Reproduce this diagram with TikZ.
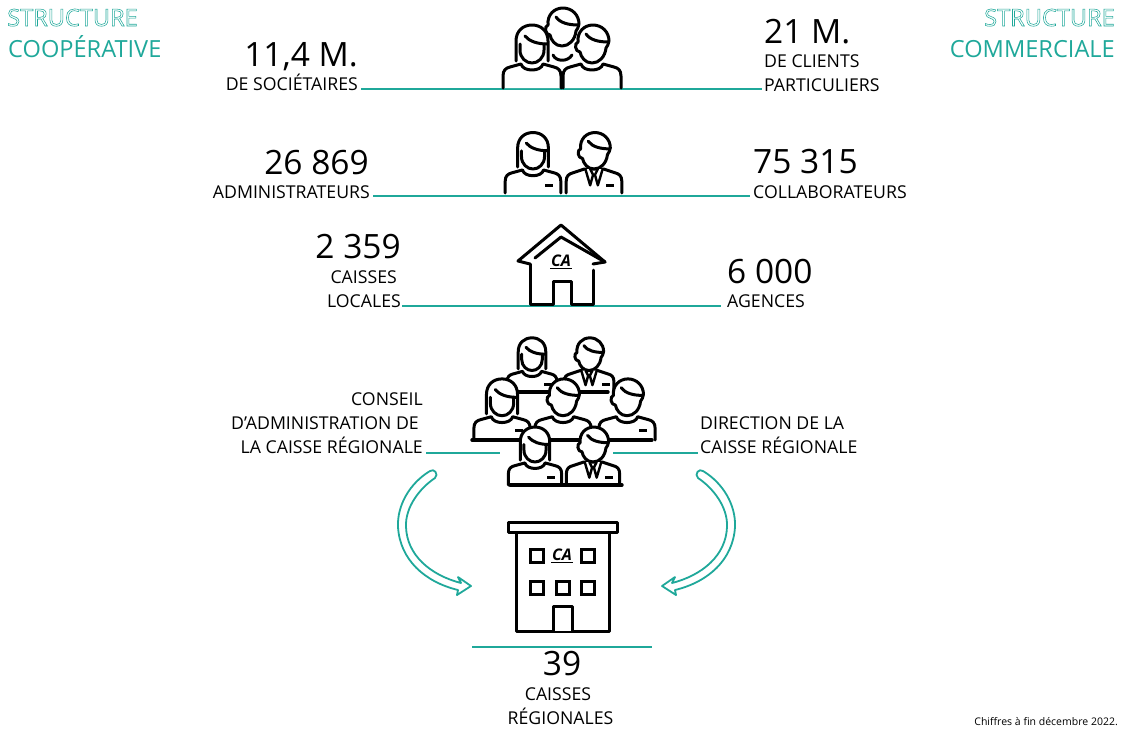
\documentclass[tikz,border=0pt]{standalone}
\usepackage{fontspec}
\setmainfont{Open Sans}
\definecolor{teal1}{HTML}{1FA89A}
\newcommand\outl[1]{\special{pdf:code 1 Tr 0.55 w}#1\special{pdf:code 0 Tr}}
\newcommand\manhead{%
    \draw[ink,fill=white] (0,-25) .. controls (-7,-25) and (-11,-31) .. (-12,-36) .. controls (-17,-36) and (-18,-45) .. (-14,-46) .. controls (-15,-56) and (-8,-63) .. (1,-63) .. controls (10,-63) and (17,-56) .. (17,-47) .. controls (17,-44) and (15,-42) .. (14,-40) .. controls (13,-31) and (7,-25) .. (0,-25) -- cycle;
    \draw[ink] (-6,-54) .. controls (-2,-48) and (7,-46) .. (16,-46);
}
\tikzset{
  ink/.style={line width=3pt,line cap=round,line join=round,black},
  rulegreen/.style={line width=2pt,teal1},
  big/.style={font=\fontsize{33.5}{34}\selectfont,inner sep=0pt},
  small/.style={font=\fontsize{17.7}{20}\selectfont,inner sep=0pt},
  head/.style={font=\fontsize{23.6}{26}\selectfont,text=teal1,inner sep=0pt},
  pics/womanicon/.style={code={
    \draw[ink,fill=white] (-16,-27) -- (-16,-47) .. controls (-16,-57) and (-9,-63) .. (0,-63) .. controls (9,-63) and (16,-57) .. (16,-47) -- (16,-27);
    \draw[ink,fill=white] (-12,-44) -- (-12,-38) .. controls (-12,-30) and (-6,-25) .. (0,-25) .. controls (6,-25) and (12,-30) .. (12,-38) -- (12,-44);
    \draw[ink] (-7,-52) .. controls (-3,-47) and (5,-44) .. (15,-44);
    \draw[ink,fill=white] (-29,0) -- (-29,-12) .. controls (-29,-18) and (-26,-20) .. (-22,-21) -- (-11,-24) .. controls (-9,-16) and (9,-16) .. (11,-24) -- (22,-21) .. controls (26,-20) and (29,-18) .. (29,-12) -- (29,0);
  }},
  pics/headicon/.style={code={\manhead}},
  pics/manicon/.style={code={
    \manhead
    \draw[ink,fill=white] (-29,0) -- (-29,-12) .. controls (-29,-18) and (-26,-20) .. (-22,-21) -- (-11,-24) .. controls (-9,-16) and (9,-16) .. (11,-24) -- (22,-21) .. controls (26,-20) and (29,-18) .. (29,-12) -- (29,0);
  }},
  pics/suiticon/.style={code={
    \manhead
    \draw[ink,fill=white] (-29,0) -- (-29,-12) .. controls (-29,-18) and (-26,-20) .. (-22,-21) -- (-10,-25) -- (10,-25) -- (22,-21) .. controls (26,-20) and (29,-18) .. (29,-12) -- (29,0);
    \draw[ink,fill=white,line width=2.4pt] (-9,-25) -- (-4,-8) -- (-1,-19) -- (-4,-25);
    \draw[ink,fill=white,line width=2.4pt] (9,-25) -- (4,-8) -- (1,-19) -- (4,-25);
  }},
  pics/badgeicon/.style={code={\draw[ink,line cap=butt] (12,-8) -- (20,-8);}},
  pics/arrowicon/.style={code={
    \draw[line width=1.8pt,teal1,fill=white,line join=round]
      (471,586) -- (458,577) -- (461,583)
      .. controls (430,575) and (407,555) .. (406,527)
      .. controls (405,507) and (420,488) .. (435,478)
      .. controls (439,474) and (434,468) .. (430,471)
      .. controls (410,483) and (397,505) .. (398,527)
      .. controls (400,560) and (425,582) .. (458,590)
      -- (457,595) -- cycle;
  }},
}
\newcommand\calogo[3]{%
  \node[inner sep=0pt,font=\fontsize{16}{16}\selectfont\bfseries\itshape,anchor=base] (#3) at (#1,#2) {CA};
  \draw[line width=1.4pt,black] (#1-11,#2+2.5) -- (#1+11,#2+2.5);
}
\begin{document}
\begin{tikzpicture}[x=1pt,y=-1pt]
\useasboundingbox (0,0) rectangle (1121,729);
% green rules
\draw[rulegreen] (361,89) -- (762,89);
\draw[rulegreen] (373,196) -- (750,196);
\draw[rulegreen] (402,306) -- (721,306);
\draw[rulegreen] (426,452.5) -- (500,452.5);
\draw[rulegreen] (613,452.5) -- (698,452.5);
\draw[rulegreen] (472,646.5) -- (652,646.5);
% group 1
\pic at (562,71) {headicon};
\draw[ink] (553,55) .. controls (556,62) and (568,62) .. (572,55);
\pic at (532,88) {womanicon};
\pic at (592,88) {manicon};
% group 2
\pic[scale=.96] at (533,193) {womanicon};
\pic at (533,193) {badgeicon};
\pic[scale=.96] at (594,193) {suiticon};
\pic at (594,193) {badgeicon};
% house
\draw[ink,fill=white] (530,264) -- (518,261) -- (561,225) -- (605,262) -- (593,264);
\draw[ink] (535,258) -- (561,237) -- (605,262);
\draw[ink] (530,264) -- (530,304) -- (553,304) -- (553,281) -- (571,281) -- (571,304) -- (593,304) -- (593,270);
\calogo{561}{266}{logoa}
% group of seven
\pic[scale=.86] at (532,392) {womanicon};
\pic at (532,392) {badgeicon};
\pic[scale=.86] at (589,392) {suiticon};
\pic at (590,392) {badgeicon};
\draw[ink,line width=3.4pt] (517,392) -- (608,392);
\pic[scale=.97] at (502,440) {womanicon};
\pic at (503,438) {badgeicon};
\pic[scale=.97] at (563,440) {manicon};
\pic[scale=.97] at (627,440) {manicon};
\pic at (627,438) {badgeicon};
\draw[ink,line width=3.4pt] (472,440) -- (652,440);
\pic[scale=.92] at (535,485) {womanicon};
\pic at (535,485) {badgeicon};
\pic[scale=.92] at (593,485) {suiticon};
\pic at (593,485) {badgeicon};
\draw[ink,line width=3.4pt] (510,485) -- (622,485);
% building
\draw[ink,fill=white] (516,532) rectangle (609,631);
\draw[ink,fill=white] (508,522) rectangle (617,532);
\draw[ink,fill=white] (553,631) -- (553,606) -- (572,606) -- (572,631);
\foreach \wx/\wy in {530/549,581/549,530/581,556/581,581/581}
  \draw[ink,line cap=butt,line join=miter] (\wx,\wy) rectangle (\wx+13,\wy+13);
\calogo{562}{560}{logob}
% arrows
\pic {arrowicon};
\pic[xscale=-1] at (1133,0) {arrowicon};
% corner titles
\node[head,anchor=base west] (t1) at (7,26) {\outl{STRUCTURE}};
\node[head,anchor=base west] (t2) at (8,57) {COOPÉRATIVE};
\node[head,anchor=base east] (t3) at (1115,26) {\outl{STRUCTURE}};
\node[head,anchor=base east] (t4) at (1115,57) {COMMERCIALE};
% figures
\node[big,anchor=base east] (a1) at (358,66) {11,4 M.};
\node[small,anchor=base east] (a2) at (358,90) {DE SOCIÉTAIRES};
\node[big,anchor=base west] (b1) at (764,43) {21 M.};
\node[small,anchor=base west] (b2) at (764,67) {DE CLIENTS};
\node[small,anchor=base west] (b3) at (764,91) {PARTICULIERS};
\node[big,anchor=base east] (c1) at (369,174) {26 869};
\node[small,anchor=base east] (c2) at (370,198) {ADMINISTRATEURS};
\node[big,anchor=base west] (d1) at (753,173) {75 315};
\node[small,anchor=base west] (d2) at (753,198) {COLLABORATEURS};
\node[big,anchor=base east] (e1) at (401,258) {2 359};
\node[small,anchor=base east] (e2) at (397,283) {CAISSES};
\node[small,anchor=base east] (e3) at (401,307) {LOCALES};
\node[big,anchor=base west] (f1) at (727,283) {6 000};
\node[small,anchor=base west] (f2) at (727,307) {AGENCES};
\node[small,anchor=base east] (g1) at (423,405) {CONSEIL};
\node[small,anchor=base east] (g2) at (419,429) {D’ADMINISTRATION DE};
\node[small,anchor=base east] (g3) at (423,453) {LA CAISSE RÉGIONALE};
\node[small,anchor=base west] (h1) at (700,429) {DIRECTION DE LA};
\node[small,anchor=base west] (h2) at (700,453) {CAISSE RÉGIONALE};
\node[big,anchor=base] (i1) at (562,675) {39};
\node[small,anchor=base] (i2) at (558,700) {CAISSES};
\node[small,anchor=base] (i3) at (560.5,724) {RÉGIONALES};
\node[inner sep=0pt,anchor=base east,font=\fontsize{10.5}{12}\selectfont] (n) at (1118,725) {Chiffres à fin décembre 2022.};
\end{tikzpicture}
\end{document}
